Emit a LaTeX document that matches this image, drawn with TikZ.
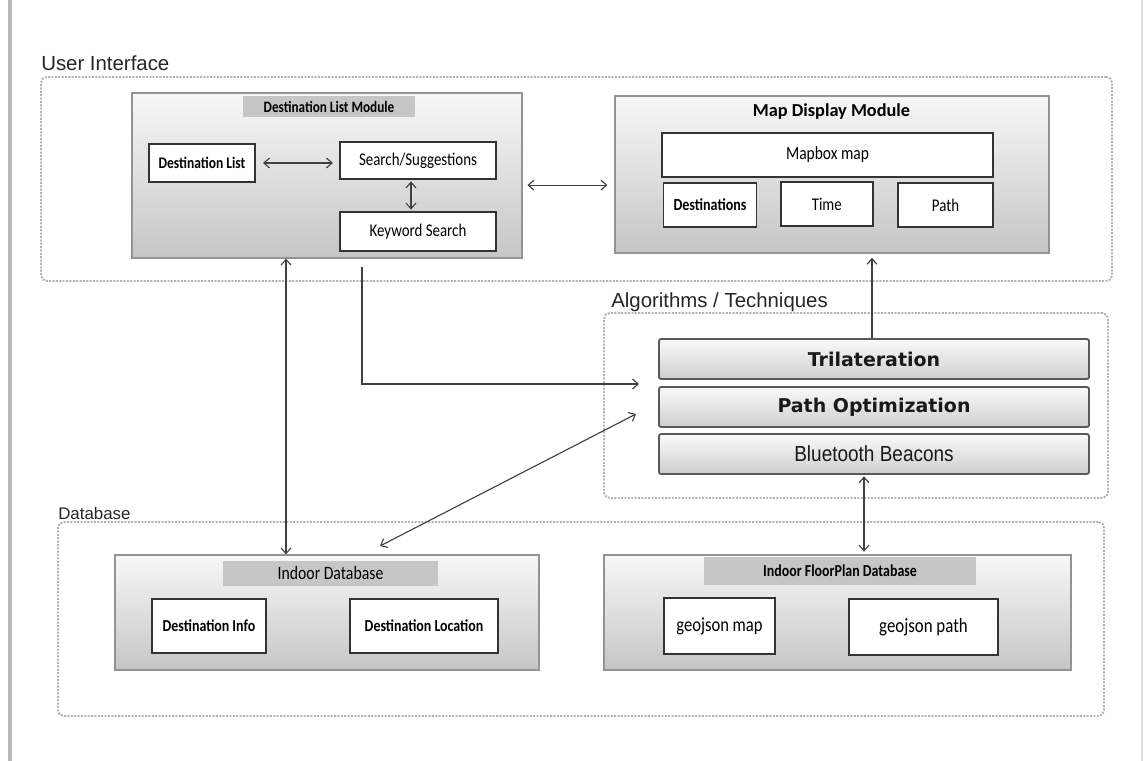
\documentclass[tikz,border=0pt]{standalone}
\usepackage{fontspec}
\setmainfont{Liberation Sans}
\newfontfamily\carlito{Carlito}
\newfontfamily\dejavu{DejaVu Sans}
\usetikzlibrary{arrows,arrows.meta}
\usetikzlibrary{shadows}

\newcommand\cbf[1]{\carlito\bfseries\fontsize{#1}{#1}\selectfont}
\newcommand\crf[1]{\carlito\fontsize{#1}{#1}\selectfont}
\newcommand\lyrfont{\dejavu\bfseries\fontsize{13.5}{16}\selectfont}
\newcommand\tall[1]{\scalebox{1}[1.2]{#1}}

\tikzset{
  sz/.style 2 args={minimum width=#1*0.025cm, minimum height=#2*0.025cm},
  group/.style={draw=gray!60, densely dotted, line width=1.4pt, rounded corners=4pt, inner sep=0pt},
  grouplabel/.style={anchor=west, inner sep=0pt, text=black!85},
  module/.style={draw=gray!85, line width=0.8pt, top color=gray!6, bottom color=gray!45, inner sep=0pt},
  titlebar/.style={fill=gray!45, inner sep=0pt},
  item/.style={draw=black!80, line width=1.4pt, fill=white, inner sep=1pt,
    drop shadow={shadow xshift=0.5pt, shadow yshift=-0.8pt, opacity=0.35}},
  layer/.style={draw=black!65, line width=1.3pt, rounded corners=1.5pt, top color=gray!4, bottom color=gray!38,
    inner sep=0pt, text=black!90},
  conn/.style={draw=black!75, line width=0.8pt, >={Straight Barb[length=4pt, width=7pt]}},
}

\begin{document}
\begin{tikzpicture}[x=0.025cm, y=-0.025cm]
\fill[white] (0,0) rectangle (1144,761);
\useasboundingbox (0,0) rectangle (1144,761);
% page edges
\draw[gray!55, line width=2.8pt] (10,0) -- (10,761);
\draw[gray!25, line width=0.8pt] (1142,0) -- (1142,761);

% user interface
\node[group, sz={1071}{204}] (ui) at (576.5,179) {};
\node[grouplabel, font=\fontsize{14.5}{17}\selectfont] (uilabel) at (41,63) {User Interface};

\node[module, sz={390}{165}] (dlm) at (327,175.5) {};
\node[titlebar, sz={172}{21}, font=\cbf{9.4}] (dlmtitle) at (329,106.5) {\tall{Destination List Module}};
\node[item, sz={106}{38}, font=\cbf{9.6}] (dlist) at (202,163) {\tall{Destination List}};
\node[item, sz={156}{37}, font=\crf{10.6}] (search) at (418,160.5) {\tall{Search/Suggestions}};
\node[item, sz={156}{39}, font=\crf{10.6}] (kwsearch) at (418,231.5) {\tall{Keyword Search}};

\node[module, sz={434}{157}] (mdm) at (832,174.5) {};
\node[inner sep=0pt, font=\cbf{13}] (mdmtitle) at (831.5,112) {Map Display Module};
\node[item, sz={331}{44}, font=\crf{11}] (mapbox) at (827.5,155) {\tall{Mapbox map}};
\node[item, sz={93}{44}, font=\cbf{10}] (dests) at (710,205) {\tall{Destinations}};
\node[item, sz={92}{44}, font=\crf{10.6}] (timebox) at (826.75,204) {\tall{Time}};
\node[item, sz={95}{44}, font=\crf{10.6}] (pathbox) at (945.5,205) {\tall{Path}};

% algorithms
\node[group, sz={504}{185}] (alg) at (856,405.5) {};
\node[grouplabel, font=\fontsize{14.5}{17}\selectfont] (alglabel) at (611,302) {Algorithms / Techniques};
\foreach \name/\y/\txt in {tri/359/{\lyrfont Trilateration},
    popt/407/{\lyrfont Path Optimization},
    bb/454/{\fontsize{13.5}{16}\selectfont\scalebox{1}[1.15]{Bluetooth Beacons}}} {
  \node[layer, sz={430}{40}] (\name) at (874,\y) {\txt};
}

% database
\node[group, sz={1046}{194}] (db) at (581,619) {};
\node[grouplabel, font=\fontsize{12}{14}\selectfont] (dblabel) at (58,513) {Database};

\node[module, sz={424}{115}] (idb) at (327,612.5) {};
\node[titlebar, sz={215}{25}, font=\crf{11.2}] (idbtitle) at (330.5,573.5) {\tall{Indoor Database}};
\node[item, sz={114}{54}, font=\cbf{9.9}] (dinfo) at (209,626) {\tall{Destination Info}};
\node[item, sz={148}{54}, font=\cbf{9.9}] (dloc) at (424,626) {\tall{Destination Location}};

\node[module, sz={467}{115}] (fpdb) at (837.5,612.5) {};
\node[titlebar, sz={272}{28}, font=\cbf{9.9}] (fptitle) at (840,571) {\tall{Indoor FloorPlan Database}};
\node[item, sz={111}{56}, font=\crf{11.8}] (gmap) at (719.5,626) {\tall{geojson map}};
\node[item, sz={149}{56}, font=\crf{12}] (gpath) at (923.5,627) {\tall{geojson path}};

% connectors
\coordinate (kwout) at (362,267);
\coordinate (algin) at (639,384);
\coordinate (dbin) at (380,546);
\coordinate (optin) at (636,414);
\draw[conn, <->, shorten <=5pt, shorten >=4.3pt] (dlist.east) -- (dlist.east -| search.west);
\draw[conn, <->, shorten <=1pt, shorten >=1pt] ([xshift=-0.175cm]search.south) -- ([xshift=-0.175cm]kwsearch.north);
\draw[conn, <->, shorten <=3.5pt, shorten >=5pt] ([yshift=-0.24cm]dlm.east) -- ([yshift=-0.24cm]dlm.east -| mdm.west);
\draw[conn, <->] (286,0 |- dlm.south) -- (286,0 |- idb.north);
\draw[conn, ->] (kwout) |- (algin);
\draw[conn, <->] (dbin) -- (optin);
\draw[conn, ->, shorten >=3pt] (872,0 |- tri.north) -- (872,0 |- mdm.south);
\draw[conn, <->, shorten <=1pt, shorten >=2pt] (864,0 |- bb.south) -- (864,0 |- fpdb.north);
\end{tikzpicture}
\end{document}
